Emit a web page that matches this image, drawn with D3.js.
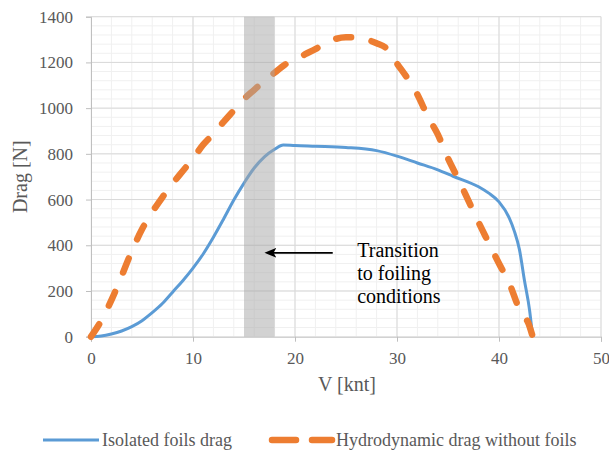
<!DOCTYPE html>
<html>
<head>
<meta charset="utf-8">
<script src="https://cdn.jsdelivr.net/npm/d3@7"></script>
<style>
  body { margin: 0; background: #fff; }
  svg text { font-family: "Liberation Serif", "Times New Roman", serif; }
</style>
</head>
<body>
<div id="vis"></div>
<script>
// speed in knots, drag in N
var foilSpeed = [0, 1, 2, 3, 4, 5, 6, 7, 8, 9, 10, 11, 12, 13, 14, 15, 16, 17, 18, 18.85, 20, 22, 25, 28, 30, 32, 34, 35.5, 38, 39, 40, 41, 41.5, 42, 42.5, 43, 43.3];
var foilDrag  = [0, 3, 12, 25, 44, 70, 105, 145, 195, 245, 300, 362, 435, 515, 598, 672, 738, 787, 820, 839, 836, 833, 828, 814, 790, 760, 730, 702, 656, 628, 590, 520, 462, 382, 245, 115, 0];

var hullSpeed = [0, 1, 2, 3, 4, 5, 6, 7, 8, 9, 10, 11, 12, 13, 14, 15, 16, 17, 18, 19, 20, 21, 22, 23, 24, 25, 26, 27, 28, 29, 30, 31, 32, 33, 34, 35, 36, 37, 38, 39, 40, 41, 42, 43, 43.3];
var hullDrag  = [0, 70, 160, 265, 375, 470, 545, 610, 670, 725, 780, 840, 887, 940, 990, 1040, 1080, 1120, 1155, 1190, 1212, 1236, 1258, 1285, 1303, 1310, 1310, 1300, 1284, 1260, 1195, 1132, 1060, 965, 885, 780, 690, 595, 500, 410, 320, 235, 120, 45, 0];

var xTicks = [0, 10, 20, 30, 40, 50];
var yTicks = [0, 200, 400, 600, 800, 1000, 1200, 1400];
var band = [15, 18];
var seriesNames = ['Isolated foils drag', 'Hydrodynamic drag without foils'];
var noteLines = ['Transition', 'to foiling', 'conditions'];

var width = 609;
var height = 452;
var margin = { top: 16.7, right: 8, bottom: 115.3, left: 91 };
var drawWidth = 510;
var drawHeight = 320;

var blue = '#5b9bd5';
var orange = '#ed7d31';
var grey = '#595959';
var serif = '"Liberation Serif", "Times New Roman", serif';

var svg = d3.select('#vis')
            .append('svg')
            .attr('width', width)
            .attr('height', height)
            .attr('font-family', serif);

var g = svg.append('g')
           .attr('transform', 'translate(' + margin.left + ', ' + margin.top + ')');

var xScale = d3.scaleLinear().domain([0, 50]).range([0, drawWidth]);
var yScale = d3.scaleLinear().domain([0, 1400]).range([drawHeight, 0]);

// minor grid
g.append('g').selectAll('line')
    .data(d3.range(0, 51, 2))
    .enter().append('line')
    .attr('x1', function(d) { return xScale(d); })
    .attr('x2', function(d) { return xScale(d); })
    .attr('y1', 0).attr('y2', drawHeight)
    .attr('stroke', '#f0f0f0').attr('stroke-width', 1);
g.append('g').selectAll('line')
    .data(d3.range(0, 1401, 40))
    .enter().append('line')
    .attr('y1', function(d) { return yScale(d); })
    .attr('y2', function(d) { return yScale(d); })
    .attr('x1', 0).attr('x2', drawWidth)
    .attr('stroke', '#f0f0f0').attr('stroke-width', 1);

// major grid
g.append('g').selectAll('line')
    .data(xTicks.slice(1))
    .enter().append('line')
    .attr('x1', function(d) { return xScale(d); })
    .attr('x2', function(d) { return xScale(d); })
    .attr('y1', 0).attr('y2', drawHeight)
    .attr('stroke', '#d9d9d9').attr('stroke-width', 1);
g.append('g').selectAll('line')
    .data(yTicks.slice(1))
    .enter().append('line')
    .attr('y1', function(d) { return yScale(d); })
    .attr('y2', function(d) { return yScale(d); })
    .attr('x1', 0).attr('x2', drawWidth)
    .attr('stroke', '#d9d9d9').attr('stroke-width', 1);

// axes
var xAxis = d3.axisBottom(xScale).tickValues(xTicks).tickFormat(d3.format('d'))
              .tickSizeOuter(0).tickSize(5).tickPadding(10);
var yAxis = d3.axisLeft(yScale).tickValues(yTicks).tickFormat(d3.format('d'))
              .tickSizeOuter(0).tickSize(5).tickPadding(13);

var gx = g.append('g')
          .attr('transform', 'translate(0, ' + drawHeight + ')')
          .call(xAxis);
var gy = g.append('g').call(yAxis);

[gx, gy].forEach(function(a) {
    a.attr('font-family', serif).attr('font-size', 17);
    a.select('.domain').attr('stroke', '#bfbfbf');
    a.selectAll('.tick line').attr('stroke', '#bfbfbf');
    a.selectAll('.tick text').attr('fill', grey);
});

// lines
var line = d3.line()
             .x(function(d) { return xScale(d[0]); })
             .y(function(d) { return yScale(d[1]); })
             .curve(d3.curveMonotoneX);

g.append('path')
    .datum(d3.zip(foilSpeed, foilDrag))
    .attr('d', line)
    .attr('fill', 'none')
    .attr('stroke', blue)
    .attr('stroke-width', 3);

g.append('path')
    .datum(d3.zip(hullSpeed, hullDrag))
    .attr('d', line)
    .attr('fill', 'none')
    .attr('stroke', orange)
    .attr('stroke-width', 6.5)
    .attr('stroke-linecap', 'round')
    .attr('stroke-dasharray', '15,21');

// transition band on top
g.append('rect')
    .attr('x', xScale(band[0]))
    .attr('width', xScale(band[1]) - xScale(band[0]))
    .attr('y', 0)
    .attr('height', drawHeight)
    .attr('fill', '#a6a6a6')
    .attr('opacity', 0.5);

// annotation arrow
svg.append('defs').append('marker')
    .attr('id', 'head')
    .attr('viewBox', '0 0 12 10')
    .attr('refX', 9).attr('refY', 5)
    .attr('markerUnits', 'userSpaceOnUse')
    .attr('markerWidth', 12).attr('markerHeight', 10)
    .attr('orient', 'auto')
    .append('path')
    .attr('d', 'M12,5 L0,0 L3,5 L0,10 Z')
    .attr('fill', '#000');

g.append('line')
    .attr('x1', xScale(23.7)).attr('x2', xScale(17.3))
    .attr('y1', yScale(367)).attr('y2', yScale(367))
    .attr('stroke', '#000').attr('stroke-width', 1.8)
    .attr('marker-end', 'url(#head)');

g.append('text')
    .attr('x', xScale(26.1))
    .attr('y', yScale(350))
    .attr('fill', '#000')
    .attr('font-size', 20)
    .selectAll('tspan')
    .data(noteLines)
    .enter().append('tspan')
    .attr('x', xScale(26.1))
    .attr('dy', function(d, i) { return i === 0 ? 0 : 23.3; })
    .text(function(d) { return d; });

// axis titles
svg.append('text')
    .attr('transform', 'translate(' + (margin.left + xScale(25.1)) + ', ' + (margin.top + drawHeight + 54) + ')')
    .attr('text-anchor', 'middle')
    .attr('fill', grey)
    .attr('font-size', 20)
    .text('V [knt]');

svg.append('text')
    .attr('transform', 'translate(' + 27 + ', ' + (margin.top + drawHeight / 2) + ') rotate(-90)')
    .attr('text-anchor', 'middle')
    .attr('fill', grey)
    .attr('font-size', 20)
    .text('Drag [N]');

// legend
var legend = svg.append('g').attr('font-size', 18).attr('fill', grey);
legend.append('line')
    .attr('x1', 43).attr('x2', 99).attr('y1', 440).attr('y2', 440)
    .attr('stroke', blue).attr('stroke-width', 3);
legend.append('text')
    .attr('x', 102).attr('y', 446)
    .text(seriesNames[0]);
legend.append('line')
    .attr('x1', 272).attr('x2', 332).attr('y1', 440).attr('y2', 440)
    .attr('stroke', orange).attr('stroke-width', 6.5)
    .attr('stroke-linecap', 'round')
    .attr('stroke-dasharray', '24,16');
legend.append('text')
    .attr('x', 336).attr('y', 446)
    .text(seriesNames[1]);
</script>
</body>
</html>
